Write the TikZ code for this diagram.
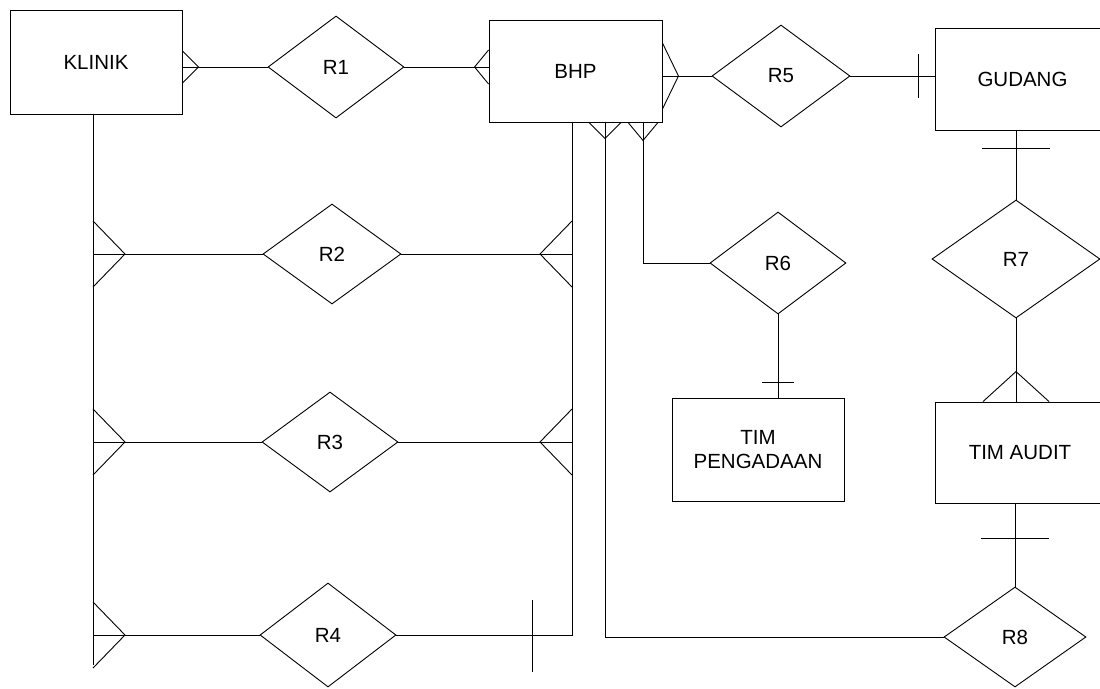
\documentclass[tikz,border=0pt]{standalone}
\usepackage{fontspec}
\setmainfont{Liberation Sans}
\usetikzlibrary{shapes.geometric,calc}
\begin{document}
\begin{tikzpicture}[x=1pt,y=-1pt,line width=0.9pt,
  ent/.style={draw,rectangle,inner sep=0pt,align=center,font=\fontsize{20.5}{24}\selectfont},
  rel/.style={draw,diamond,inner sep=0pt,font=\fontsize{20.5}{24}\selectfont}]
\useasboundingbox (0,0) rectangle (1100,688);
\clip (0,0) rectangle (1100,688);
% entities
\node[ent,minimum width=172pt,minimum height=104pt] (KLINIK) at (96,62) {KLINIK};
\node[ent,minimum width=173pt,minimum height=102pt] (BHP) at (575.5,71) {BHP};
\node[ent,minimum width=175pt,minimum height=102pt] (GUDANG) at (1022.5,79) {GUDANG};
\node[ent,minimum width=172pt,minimum height=103pt] (TP) at (758,449.5) {TIM\\PENGADAAN};
\node[ent,minimum width=170pt,minimum height=101pt] (TA) at (1020,452.5) {TIM AUDIT};
% relationships
\node[rel,minimum width=136pt,minimum height=102pt] (R1) at (336,67) {R1};
\node[rel,minimum width=138pt,minimum height=100pt] (R2) at (332,254) {R2};
\node[rel,minimum width=136pt,minimum height=100pt] (R3) at (330,442) {R3};
\node[rel,minimum width=136pt,minimum height=104pt] (R4) at (328,635) {R4};
\node[rel,minimum width=138pt,minimum height=102pt] (R5) at (781,76) {R5};
\node[rel,minimum width=136pt,minimum height=102pt] (R6) at (778,263) {R6};
\node[rel,minimum width=168pt,minimum height=118pt] (R7) at (1016,259) {R7};
\node[rel,minimum width=142pt,minimum height=100pt] (R8) at (1015,637) {R8};
% KLINIK - R1
\coordinate (k1) at (R1.west -| KLINIK.east);
\draw (k1) -- (R1.west);
\draw (k1) ++(0,-16) -- ++(16,16) -- ++(-16,16);
% R1 - BHP
\coordinate (b1) at (R1.east -| BHP.west);
\draw (R1.east) -- (b1);
\draw (b1) ++(0,-17) -- ++(-14,17) -- ++(14,17);
% BHP - R5
\coordinate (b5) at (R5.west -| BHP.east);
\draw (b5) -- (R5.west);
\draw (b5) ++(0,-33) -- ++(16,33) -- ++(-16,33);
% R5 - GUDANG
\coordinate (g5) at (R5.east -| GUDANG.west);
\draw (R5.east) -- (g5);
\draw (g5) ++(-16,-22) -- ++(0,44);
% GUDANG - R7
\coordinate (g7) at (R7.north |- GUDANG.south);
\draw (g7) -- (R7.north);
\draw (g7) ++(-34,18) -- ++(68,0);
% R7 - TIM AUDIT
\coordinate (t7) at (R7.south |- TA.north);
\draw (R7.south) -- (t7);
\draw (t7) ++(-33,0) -- ++(33,-30) -- ++(33,30);
% TIM AUDIT - R8
\coordinate (t8) at (R8.north |- TA.south);
\draw (t8) -- (R8.north);
\draw (t8) ++(-34,35) -- ++(68,0);
% BHP - R8
\coordinate (b8) at ([xshift=29.5pt]BHP.south);
\draw (b8) |- (R8.west);
\draw (b8) ++(-16,0) -- ++(16,16) -- ++(16,-16);
% BHP - R6
\coordinate (b6) at ([xshift=67.5pt]BHP.south);
\draw (b6) |- (R6.west);
\draw (b6) ++(-15,0) -- ++(15,18) -- ++(15,-18);
% R6 - TIM PENGADAAN
\coordinate (p6) at (R6.south |- TP.north);
\draw (R6.south) -- (p6);
\draw (p6) ++(-16,-15) -- ++(32,0);
% KLINIK spine
\coordinate (k0) at ([xshift=-3pt]KLINIK.south);
\coordinate (kend) at ($(k0)+(0,551)$);
\draw (k0) -- (kend);
\coordinate (l2) at (R2.west -| k0);
\draw (l2) -- (R2.west);
\draw (l2) ++(0,-33) -- ++(32,33) -- ++(-32,33);
\coordinate (l3) at (R3.west -| k0);
\draw (l3) -- (R3.west);
\draw (l3) ++(0,-33) -- ++(32,33) -- ++(-32,33);
\coordinate (l4) at (R4.west -| k0);
\draw (l4) -- (R4.west);
\draw (l4) ++(0,-33) -- ++(32,33) -- ++(-32,33);
% BHP spine
\coordinate (b0) at ([xshift=-3.5pt]BHP.south);
\coordinate (r2) at (R2.east -| b0);
\draw (R2.east) -- (r2);
\draw (r2) ++(0,-33) -- ++(-32,33) -- ++(32,33);
\coordinate (r3) at (R3.east -| b0);
\draw (R3.east) -- (r3);
\draw (r3) ++(0,-33) -- ++(-32,33) -- ++(32,33);
\coordinate (r4) at (R4.east -| b0);
\draw (b0) -- (r4) -- (R4.east);
\draw (r4) ++(-40,-35) -- ++(0,72);
\end{tikzpicture}
\end{document}
